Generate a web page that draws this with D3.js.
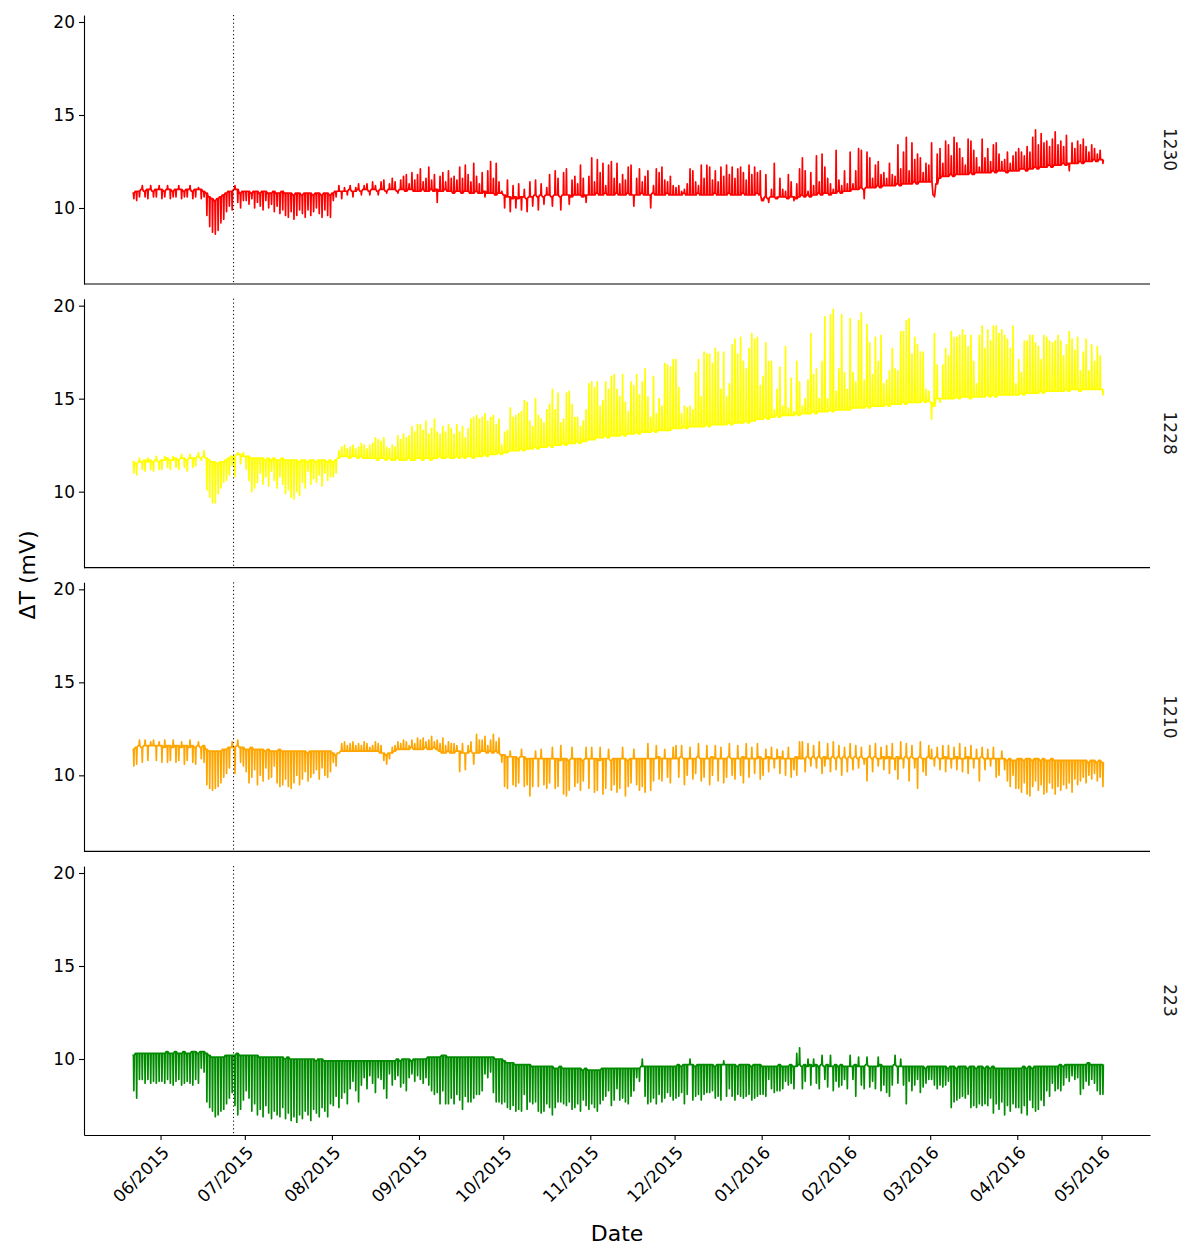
<!DOCTYPE html>
<html><head><meta charset="utf-8">
<script src="https://cdn.jsdelivr.net/npm/d3@7"></script>
<style>body{margin:0;background:#fff}text{font-family:"DejaVu Sans",sans-serif}</style>
</head><body>
<svg id="chart" width="1184" height="1245"></svg>
<script>
// First day of each block of daily values (first block starts 22 May 2015)
const monthStarts = ["2015-05-22","2015-06-01","2015-07-01","2015-08-01","2015-09-01","2015-10-01","2015-11-01","2015-12-01","2016-01-01","2016-02-01","2016-03-01","2016-04-01","2016-05-01"];
const sensors = ["1230","1228","1210","223"];
const colors = ["#FF0000","#FFFF00","#FFA500","#008B00"];
const yTicks = [10,15,20];
const markerDate = "2015-06-27";
const xTitle = "Date", yTitle = "\u0394T (mV)";

// Daily baseline (night) value and daily excursion value, mV, one row per month
const base1230 = [
[10.8,10.9,10.9,11.0,10.9,11.0,11.0,10.9,11.0,11.0],
[11.0,10.9,11.0,11.0,10.9,11.0,11.0,11.0,10.9,11.0,11.0,10.9,11.0,11.0,11.0,10.9,10.8,10.6,10.5,10.4,10.5,10.6,10.7,10.8,10.9,10.9,11.0,11.0,10.8,10.9],
[10.9,10.9,10.8,10.9,10.9,10.8,10.9,10.9,10.8,10.8,10.9,10.8,10.8,10.9,10.8,10.8,10.8,10.7,10.8,10.8,10.7,10.8,10.8,10.8,10.7,10.8,10.8,10.7,10.8,10.8,10.7],
[10.8,10.9,10.9,10.9,10.9,10.9,11.0,10.9,10.9,11.0,10.9,11.0,11.0,10.9,11.0,11.0,10.9,11.0,11.0,10.9,11.0,11.0,11.0,10.9,11.0,11.0,10.9,11.0,11.0,10.9,10.9],
[10.9,11.0,10.9,10.9,11.0,10.9,11.0,10.9,10.9,11.0,10.9,10.9,10.8,10.9,10.9,10.8,10.9,10.9,10.8,10.8,10.9,10.8,10.8,10.9,10.8,10.8,10.8,10.7,10.8,10.8],
[10.7,10.6,10.6,10.5,10.6,10.5,10.6,10.6,10.5,10.6,10.6,10.7,10.6,10.7,10.6,10.7,10.7,10.6,10.7,10.7,10.6,10.7,10.7,10.7,10.6,10.7,10.7,10.7,10.6,10.7,10.7],
[10.7,10.7,10.8,10.7,10.7,10.8,10.7,10.7,10.7,10.8,10.7,10.7,10.7,10.8,10.7,10.7,10.7,10.7,10.8,10.7,10.7,10.7,10.8,10.7,10.7,10.7,10.7,10.8,10.7,10.7],
[10.7,10.7,10.7,10.8,10.7,10.7,10.7,10.7,10.8,10.7,10.7,10.7,10.7,10.7,10.8,10.7,10.7,10.7,10.7,10.8,10.7,10.7,10.7,10.7,10.8,10.7,10.7,10.7,10.7,10.8,10.7],
[10.4,10.6,10.5,10.6,10.6,10.5,10.6,10.6,10.6,10.5,10.6,10.6,10.5,10.6,10.7,10.6,10.7,10.6,10.7,10.7,10.8,10.7,10.8,10.8,10.7,10.8,10.8,10.9,10.8,10.9,10.9],
[10.9,11.0,11.0,11.0,11.1,11.0,11.1,11.1,11.1,11.1,11.2,11.1,11.2,11.2,11.2,11.2,11.2,11.3,11.2,11.3,11.3,11.3,11.3,11.4,11.3,11.4,11.4,11.4,11.4],
[11.4,10.7,11.3,11.6,11.7,11.7,11.7,11.8,11.7,11.8,11.8,11.8,11.8,11.8,11.9,11.8,11.9,11.9,11.9,11.9,11.9,11.9,12.0,11.9,12.0,12.0,12.0,11.9,12.0,12.0,12.0],
[12.0,12.1,12.1,12.0,12.1,12.1,12.2,12.1,12.2,12.2,12.2,12.3,12.2,12.3,12.3,12.3,12.4,12.3,12.4,12.4,12.4,12.4,12.5,12.4,12.5,12.5,12.5,12.6,12.5,12.6],
[12.6]];
const ext1230 = [
[10.5,10.4,10.6,11.2,10.6,10.5,11.2,10.6,10.6,11.2],
[10.5,10.6,11.2,10.5,10.6,10.6,11.2,10.5,10.6,10.6,11.2,10.5,10.6,11.1,10.5,10.6,9.6,9.0,8.7,8.6,8.8,9.2,9.4,9.8,10.1,9.9,11.2,10.3,10.0,10.4],
[10.4,10.2,10.5,10.0,10.3,10.1,9.9,10.4,10.0,10.2,9.8,10.1,9.7,9.9,9.6,9.5,9.8,9.4,9.6,9.9,9.7,9.5,9.9,9.6,9.8,10.0,9.7,9.5,9.9,9.6,9.5],
[10.4,10.6,11.2,10.5,11.1,10.7,11.2,10.6,11.1,11.3,10.7,11.2,11.3,10.7,11.4,11.2,10.7,11.4,11.5,10.8,11.3,11.6,11.4,10.8,11.5,11.7,11.8,11.3,11.9,11.5,11.8],
[12.1,11.4,11.6,12.2,11.5,11.8,10.3,11.7,11.9,11.4,12.0,11.6,11.7,11.5,12.2,11.6,12.3,11.8,11.4,12.4,11.7,11.3,11.9,10.6,12.0,12.5,11.6,12.4,11.4,10.9],
[10.0,11.5,9.8,11.2,10.0,11.3,9.9,11.0,9.8,11.4,10.1,11.5,9.9,11.3,10.2,11.1,11.8,10.1,12.0,11.6,9.9,11.9,12.1,10.2,11.5,11.7,11.3,12.3,11.6,10.3,11.7],
[12.7,11.4,12.6,11.9,12.4,11.2,12.3,12.5,11.6,12.4,11.3,11.8,11.5,12.2,12.3,10.1,11.6,12.1,11.4,11.7,12.0,10.0,11.2,12.1,11.9,12.2,11.5,11.4,11.7,11.2],
[11.1,11.2,10.9,11.0,11.3,12.1,12.0,11.4,11.2,12.3,11.6,12.3,12.2,11.5,12.0,11.4,12.2,11.7,12.3,11.8,12.2,11.6,12.1,12.2,11.9,11.5,12.3,11.8,12.2,11.9,12.0],
[10.5,11.8,10.3,11.0,12.4,10.6,11.6,11.0,10.9,11.8,11.4,10.4,11.3,12.1,12.7,12.0,10.9,11.9,11.2,12.8,11.4,12.9,12.2,11.6,11.3,11.0,13.1,11.5,11.2,12.0,11.3],
[13.0,11.3,12.0,13.2,13.1,10.5,13.0,12.7,11.6,12.3,12.5,11.8,11.9,11.6,12.4,11.8,11.7,13.4,12.1,13.0,13.8,12.0,13.5,12.6,12.9,12.7,11.9,12.4,12.3],
[13.5,10.6,12.9,13.2,12.4,13.6,13.4,12.8,13.8,13.5,13.2,12.7,12.3,13.7,13.6,13.1,12.7,12.2,13.7,12.7,13.2,12.5,13.4,13.5,12.9,12.5,12.6,13.0,12.4,12.8,13.0],
[13.2,13.0,12.8,13.3,13.0,13.8,14.2,13.4,14.0,13.5,13.6,13.3,13.7,14.1,13.4,13.6,13.3,13.9,12.0,13.5,13.2,13.6,13.4,13.7,13.3,13.0,13.4,13.2,12.9,13.1],
[12.4]];

const base1228 = [
[11.6,11.5,11.6,11.6,11.7,11.6,11.7,11.6,11.7,11.6],
[11.7,11.7,11.8,11.7,11.7,11.8,11.7,11.8,11.8,11.7,11.8,11.8,11.8,11.9,11.8,11.9,11.8,11.7,11.6,11.6,11.5,11.6,11.6,11.7,11.8,11.9,11.9,12.0,12.0,11.9],
[11.9,11.9,11.8,11.8,11.8,11.8,11.8,11.7,11.8,11.7,11.8,11.7,11.7,11.8,11.7,11.7,11.7,11.7,11.7,11.6,11.7,11.7,11.6,11.7,11.7,11.6,11.7,11.7,11.7,11.6,11.7],
[11.6,11.7,11.8,11.9,11.9,11.9,11.8,11.9,11.9,11.8,11.9,11.8,11.8,11.8,11.8,11.8,11.7,11.8,11.8,11.7,11.8,11.7,11.7,11.8,11.7,11.7,11.7,11.8,11.7,11.7,11.8],
[11.8,11.7,11.8,11.8,11.7,11.8,11.8,11.9,11.8,11.8,11.9,11.8,11.8,11.9,11.8,11.9,11.8,11.9,11.9,11.8,11.9,11.9,11.9,12.0,11.9,12.0,12.0,12.0,12.1,12.0],
[12.1,12.1,12.2,12.2,12.2,12.2,12.3,12.2,12.3,12.3,12.3,12.4,12.3,12.4,12.4,12.4,12.5,12.4,12.5,12.5,12.5,12.6,12.5,12.6,12.6,12.6,12.7,12.6,12.7,12.7,12.8],
[12.8,12.8,12.9,12.9,12.9,13.0,12.9,13.0,13.0,13.0,13.0,13.1,13.0,13.1,13.1,13.1,13.2,13.1,13.2,13.2,13.2,13.2,13.3,13.2,13.3,13.3,13.3,13.3,13.3,13.4],
[13.4,13.4,13.4,13.5,13.4,13.5,13.5,13.5,13.5,13.5,13.5,13.6,13.5,13.6,13.6,13.6,13.6,13.6,13.6,13.7,13.6,13.7,13.7,13.7,13.7,13.8,13.7,13.8,13.8,13.9,13.9],
[13.9,14.0,13.9,14.0,14.0,14.1,14.0,14.1,14.1,14.1,14.1,14.1,14.2,14.1,14.2,14.2,14.2,14.2,14.3,14.2,14.3,14.3,14.3,14.3,14.4,14.3,14.4,14.4,14.4,14.4,14.4],
[14.4,14.5,14.5,14.5,14.5,14.5,14.6,14.5,14.6,14.6,14.6,14.6,14.6,14.7,14.6,14.7,14.7,14.7,14.7,14.8,14.7,14.8,14.8,14.8,14.8,14.8,14.9,14.8,14.9],
[14.8,14.6,15.0,15.0,15.0,15.0,15.0,15.0,15.0,15.1,15.0,15.1,15.1,15.1,15.0,15.1,15.1,15.1,15.1,15.1,15.2,15.1,15.2,15.1,15.2,15.2,15.2,15.2,15.2,15.2,15.2],
[15.2,15.3,15.2,15.3,15.3,15.3,15.3,15.3,15.4,15.3,15.4,15.4,15.4,15.4,15.4,15.4,15.4,15.5,15.4,15.5,15.5,15.5,15.4,15.5,15.5,15.5,15.5,15.5,15.5,15.5],
[15.5]];
const ext1228 = [
[11.0,10.9,11.8,11.2,11.1,11.8,11.2,11.1,11.9,11.2],
[11.2,11.9,11.3,11.2,11.9,11.3,11.2,12.0,11.3,11.1,12.0,11.3,11.4,12.1,11.7,12.2,10.1,9.7,9.4,9.4,9.9,10.2,10.5,10.6,10.9,11.4,10.8,12.1,11.5,12.1],
[11.2,10.6,10.0,10.2,10.5,11.0,10.4,10.8,10.3,11.1,10.6,10.2,10.8,10.4,9.9,10.1,9.7,9.6,10.0,9.8,10.5,10.2,11.1,10.4,10.7,10.5,10.9,10.3,11.0,10.6,10.8],
[10.8,11.0,12.2,12.4,12.5,12.3,12.4,12.5,12.3,12.4,12.6,12.5,12.3,12.5,12.6,12.9,12.8,12.7,12.9,12.4,12.3,12.5,12.4,13.0,12.8,13.1,12.9,13.0,13.5,13.2,13.6],
[13.6,13.3,13.8,13.1,13.4,13.9,13.2,13.1,13.5,13.2,13.6,13.4,13.1,13.6,13.2,13.5,12.9,13.4,13.9,14.0,14.1,13.9,14.0,14.2,13.8,14.0,14.1,13.6,13.9,12.5],
[13.2,13.3,14.5,14.0,14.1,14.2,14.3,14.9,14.8,13.8,13.5,15.0,14.1,13.9,13.7,14.4,14.7,15.5,14.4,15.3,13.7,13.9,15.3,15.4,14.7,14.0,14.0,13.5,13.8,14.4,15.8],
[15.9,15.6,15.9,14.6,14.9,15.9,15.5,16.2,16.3,15.5,15.1,16.3,14.8,14.3,15.9,15.7,16.3,15.2,15.9,16.6,15.1,14.0,16.2,14.2,15.0,14.6,16.9,16.8,16.7,17.1],
[17.1,15.6,14.2,14.6,14.5,14.6,14.4,16.4,17.1,15.1,17.5,17.4,17.4,16.9,17.7,17.5,15.5,17.5,15.1,15.8,17.9,18.2,17.4,18.3,17.0,16.6,17.7,18.5,18.2,18.3,15.7],
[16.2,18.0,17.0,17.0,14.4,15.5,16.7,14.6,17.8,14.5,16.1,14.3,17.0,15.9,14.6,15.0,16.0,18.5,16.3,16.6,15.0,17.0,19.4,15.0,19.5,19.8,15.4,16.6,19.5,16.4,15.5],
[19.3,16.4,15.9,19.2,19.6,16.0,19.0,18.0,16.3,18.3,17.0,18.4,15.8,16.0,16.5,17.7,16.6,16.5,18.6,18.6,19.2,19.3,17.4,18.3,17.9,17.5,17.5,15.5,15.4],
[13.9,18.5,16.8,14.8,16.8,17.7,17.3,18.6,18.3,18.3,18.4,18.7,18.4,17.8,18.4,17.0,15.8,18.4,18.9,17.7,18.7,18.1,18.9,18.9,18.5,18.7,18.4,18.2,17.7,18.9,15.8],
[17.1,16.4,18.1,18.1,18.4,18.4,18.0,17.8,17.1,18.4,18.3,18.1,18.0,18.1,18.4,18.1,17.3,17.9,18.6,18.2,17.6,18.3,16.5,17.5,18.2,16.5,17.9,17.0,17.8,17.3],
[15.2]];

const base1210 = [
[11.4,11.5,11.6,11.5,11.6,11.6,11.6,11.6,11.6,11.6],
[11.6,11.5,11.6,11.6,11.5,11.6,11.6,11.5,11.6,11.6,11.5,11.6,11.5,11.6,11.5,11.6,11.4,11.3,11.3,11.3,11.3,11.3,11.4,11.4,11.5,11.5,11.5,11.6,11.5,11.5],
[11.4,11.4,11.5,11.4,11.4,11.4,11.4,11.3,11.4,11.3,11.3,11.3,11.4,11.3,11.3,11.3,11.3,11.3,11.3,11.3,11.3,11.3,11.2,11.3,11.3,11.3,11.3,11.3,11.3,11.3,11.3],
[11.2,11.1,11.2,11.3,11.3,11.3,11.3,11.3,11.3,11.3,11.3,11.3,11.3,11.3,11.3,11.3,11.3,11.2,11.2,11.1,11.2,11.2,11.3,11.4,11.4,11.4,11.4,11.4,11.5,11.4,11.4],
[11.4,11.4,11.5,11.4,11.4,11.5,11.4,11.3,11.2,11.2,11.3,11.2,11.2,11.3,11.3,11.2,11.2,11.2,11.3,11.2,11.2,11.2,11.3,11.3,11.2,11.3,11.2,11.3,11.2,11.1],
[11.1,11.0,11.0,11.0,11.0,10.9,11.0,11.0,10.9,10.9,10.9,10.9,10.9,10.9,10.9,10.9,10.9,10.9,10.9,10.9,10.8,10.9,10.9,10.8,10.9,10.9,10.9,10.9,10.8,10.9,10.9],
[10.9,10.9,10.9,10.8,10.9,10.9,10.9,10.8,10.9,10.9,10.9,10.9,10.9,10.8,10.9,10.9,10.9,10.9,10.9,10.9,10.9,10.9,10.9,10.9,11.0,10.9,10.9,10.9,10.9,10.9],
[10.9,10.9,11.0,10.9,10.9,10.9,10.9,10.9,11.0,10.9,10.9,10.9,10.9,11.0,10.9,10.9,10.9,10.9,10.9,11.0,10.9,10.9,10.9,10.9,11.0,10.9,10.9,10.9,10.9,10.9,11.0],
[10.9,10.9,11.0,10.9,10.9,10.9,11.0,10.9,10.9,10.9,10.9,10.9,11.0,10.9,10.9,10.9,11.0,10.9,11.0,10.9,11.0,10.9,11.0,10.9,10.9,11.0,10.9,11.0,10.9,11.0,10.9],
[11.0,10.9,11.0,10.9,11.0,10.9,10.9,11.0,10.9,11.0,10.9,10.9,11.0,10.9,11.0,10.9,10.9,11.0,10.9,10.9,11.0,10.9,11.0,10.9,10.9,11.0,10.9,10.9,11.0],
[10.9,10.9,11.0,10.9,10.9,11.0,10.9,10.9,10.9,11.0,10.9,10.9,10.9,11.0,10.9,10.9,10.9,10.9,11.0,10.9,10.9,10.9,10.9,10.9,10.9,10.9,10.9,10.8,10.9,10.8,10.8],
[10.9,10.9,10.8,10.9,10.9,10.8,10.9,10.9,10.8,10.9,10.8,10.8,10.9,10.8,10.8,10.8,10.8,10.8,10.8,10.8,10.8,10.8,10.8,10.8,10.8,10.7,10.8,10.8,10.7,10.8],
[10.7]];
const ext1210 = [
[10.5,10.6,11.9,10.7,11.9,10.8,11.8,11.9,10.8,11.8],
[10.7,11.9,10.7,10.8,11.9,10.7,10.8,11.8,10.6,10.8,11.9,10.7,10.6,11.8,10.9,10.7,9.5,9.3,9.2,9.3,9.4,9.6,9.9,10.1,10.4,11.8,10.1,11.9,10.7,10.5],
[10.2,9.6,9.9,10.3,9.5,10.0,9.7,10.4,9.8,9.9,10.5,9.6,9.4,9.5,9.8,9.4,9.3,9.6,10.0,9.5,9.8,10.2,9.7,9.9,10.1,10.3,9.8,10.4,10.0,9.9,10.2],
[10.7,10.5,11.2,11.7,11.8,11.6,11.7,11.8,11.6,11.7,11.6,11.8,11.7,11.5,11.6,11.8,11.7,11.6,10.8,10.6,10.9,11.5,11.6,11.8,11.7,11.9,11.8,11.6,11.9,11.7,12.0],
[11.9,12.0,11.8,11.9,12.1,11.8,11.9,11.7,12.0,11.6,11.8,11.7,11.7,11.6,10.2,11.7,10.3,11.6,11.8,10.6,12.2,11.9,11.9,12.1,11.6,11.9,12.2,11.8,12.0,10.7],
[9.4,9.3,11.3,9.5,9.4,9.6,11.4,9.4,9.5,8.9,9.4,11.3,9.4,11.4,9.5,9.3,9.6,11.5,9.3,9.4,11.6,9.0,8.9,9.2,11.5,9.4,9.6,9.2,9.7,11.5,9.3],
[11.5,9.1,9.2,11.5,9.0,9.3,11.4,9.2,9.5,9.1,9.3,11.5,8.9,9.4,9.6,11.4,9.5,9.2,9.4,9.1,11.7,9.2,9.7,11.6,9.8,9.7,11.4,9.9,9.6,11.5],
[11.6,9.9,11.6,9.5,10.0,11.5,9.8,10.1,11.7,9.7,9.9,11.6,9.5,10.0,11.6,9.7,11.5,9.6,9.9,11.7,10.0,9.8,11.6,10.0,9.6,11.7,9.9,11.5,10.1,11.7,9.8],
[10.0,11.4,10.2,11.5,10.4,11.4,10.1,11.3,10.0,11.5,9.9,10.3,10.0,11.8,11.8,10.2,11.7,10.5,11.6,10.4,11.8,10.1,10.5,11.7,10.2,11.8,10.3,11.6,10.0,11.5,10.2],
[11.7,10.3,11.6,10.4,11.5,10.6,9.7,11.6,10.2,11.7,10.5,11.5,10.3,11.6,10.1,11.7,10.3,9.8,11.8,10.4,11.7,9.7,11.6,10.4,9.3,11.8,10.2,10.0,11.6],
[11.4,10.5,11.5,10.3,11.6,10.2,11.6,10.4,11.5,10.3,11.7,10.2,11.5,10.1,11.6,10.4,11.4,9.7,11.5,10.3,11.4,10.5,11.5,9.9,10.0,11.3,10.3,9.7,9.4,10.0,9.3],
[9.3,9.1,9.6,9.0,8.9,9.4,9.7,9.2,9.5,9.0,9.1,9.6,9.3,9.0,9.4,9.2,9.5,9.3,9.6,9.1,9.8,9.5,9.7,9.9,9.6,10.0,9.8,10.1,9.7,9.9],
[9.4]];

const base223 = [
[10.2,10.3,10.3,10.3,10.3,10.3,10.3,10.3,10.3,10.3],
[10.3,10.3,10.4,10.3,10.3,10.4,10.3,10.3,10.4,10.3,10.3,10.4,10.4,10.3,10.4,10.4,10.3,10.2,10.1,10.1,10.1,10.1,10.1,10.2,10.2,10.2,10.2,10.3,10.2,10.2],
[10.2,10.2,10.2,10.2,10.2,10.1,10.1,10.1,10.1,10.1,10.1,10.1,10.1,10.1,10.0,10.1,10.0,10.0,10.0,10.0,10.0,10.0,10.0,10.0,10.0,9.9,10.0,10.0,9.9,9.9,9.9],
[9.9,9.9,9.9,9.9,9.9,9.9,9.9,9.9,9.9,9.9,9.9,9.9,9.9,9.9,9.9,9.9,9.9,9.9,9.9,9.9,9.9,9.9,9.9,10.0,9.9,10.0,10.0,10.0,9.9,10.0,10.0],
[10.0,10.0,10.0,10.1,10.1,10.1,10.1,10.1,10.2,10.2,10.1,10.1,10.1,10.1,10.1,10.1,10.1,10.1,10.1,10.1,10.1,10.1,10.1,10.1,10.1,10.1,10.1,10.0,10.0,10.0],
[9.9,9.8,9.8,9.8,9.7,9.7,9.7,9.7,9.7,9.7,9.6,9.6,9.6,9.6,9.6,9.6,9.6,9.6,9.5,9.5,9.6,9.5,9.5,9.5,9.5,9.5,9.5,9.5,9.4,9.5,9.4],
[9.4,9.4,9.4,9.4,9.5,9.5,9.5,9.5,9.5,9.5,9.5,9.5,9.5,9.5,9.5,9.5,9.5,9.5,9.6,9.6,9.6,9.6,9.6,9.6,9.6,9.6,9.6,9.6,9.6,9.6],
[9.6,9.7,9.6,9.7,9.7,9.7,9.7,9.6,9.7,9.7,9.7,9.7,9.7,9.7,9.6,9.7,9.7,9.7,9.7,9.7,9.7,9.7,9.6,9.7,9.7,9.7,9.7,9.6,9.7,9.7,9.7],
[9.6,9.6,9.6,9.6,9.6,9.6,9.7,9.6,9.6,9.6,9.7,9.6,9.6,9.7,9.6,9.7,9.6,9.7,9.6,9.7,9.6,9.7,9.6,9.7,9.6,9.6,9.7,9.6,9.7,9.6,9.6],
[9.6,9.6,9.7,9.6,9.6,9.6,9.7,9.6,9.6,9.6,9.6,9.7,9.6,9.6,9.6,9.6,9.7,9.6,9.6,9.6,9.6,9.6,9.6,9.6,9.6,9.6,9.6,9.5,9.6],
[9.6,9.6,9.6,9.6,9.6,9.6,9.5,9.6,9.6,9.5,9.6,9.6,9.6,9.5,9.6,9.6,9.5,9.6,9.6,9.5,9.6,9.5,9.6,9.5,9.5,9.5,9.5,9.5,9.5,9.5,9.5],
[9.5,9.5,9.6,9.5,9.6,9.5,9.6,9.6,9.6,9.6,9.6,9.6,9.6,9.6,9.6,9.7,9.6,9.7,9.7,9.7,9.7,9.7,9.7,9.7,9.7,9.8,9.7,9.7,9.7,9.7],
[9.7]];
const ext223 = [
[8.3,7.9,8.9,8.9,8.7,8.9,8.7,8.8,8.7,8.8],
[8.8,8.7,8.9,8.7,8.6,8.8,8.9,8.6,8.7,8.8,8.7,8.6,8.9,8.7,9.5,9.3,7.7,7.4,7.2,6.9,7.0,7.2,7.3,7.6,7.9,8.2,7.5,7.0,7.3,7.8],
[8.3,7.9,7.2,7.6,7.0,7.3,6.9,7.5,7.1,6.8,7.2,7.0,6.9,7.4,6.8,7.1,6.7,6.9,6.6,7.0,6.8,7.2,7.0,6.7,7.3,7.1,6.9,7.4,7.2,6.9,7.6],
[7.5,8.0,7.4,7.9,8.2,7.6,8.4,8.8,8.3,7.7,8.6,9.0,8.4,9.1,8.7,8.2,9.0,8.9,8.4,7.9,9.2,8.6,8.9,9.1,8.5,8.7,8.3,9.0,9.2,8.8,9.1],
[8.9,8.7,9.0,8.6,8.3,8.1,8.2,7.6,8.3,7.6,7.6,7.9,7.6,8.1,7.8,7.3,8.0,7.7,7.7,7.9,8.1,8.1,8.3,9.2,9.0,9.3,8.2,7.7,7.7,7.6],
[7.7,7.4,7.3,7.5,7.2,7.3,7.2,8.1,7.3,7.7,7.6,7.7,7.2,7.1,7.2,7.6,7.4,7.0,7.4,7.7,7.7,7.6,7.5,7.7,7.3,7.4,7.6,7.2,7.8,7.5,7.3],
[7.6,7.4,7.2,7.6,7.8,8.0,8.3,7.5,7.8,8.4,7.8,7.9,7.7,7.6,8.0,8.3,9.0,8.8,10.0,8.0,7.6,7.7,7.9,7.6,8.1,7.7,7.9,8.2,8.0,7.8],
[7.9,8.0,8.2,7.6,8.1,10.0,7.8,8.0,8.1,7.8,8.1,8.2,8.2,8.3,7.9,8.0,7.8,9.9,8.0,8.4,8.0,7.8,8.1,8.0,7.9,8.0,8.1,7.8,7.9,8.0,8.1],
[8.1,8.0,8.9,8.4,8.2,8.3,8.3,8.4,8.8,8.6,8.7,8.4,10.3,10.6,8.4,8.8,10.0,8.6,10.0,8.7,8.4,10.2,8.9,8.5,10.2,8.3,8.8,8.5,8.6,8.9,8.4],
[10.2,8.9,8.0,10.1,8.6,8.4,10.1,8.5,8.8,8.4,10.1,8.3,8.6,8.2,8.0,8.6,10.2,8.7,10.0,8.6,7.6,8.8,8.3,8.6,8.9,8.2,8.5,8.7,8.9],
[8.9,8.6,8.4,8.6,8.5,8.6,8.8,7.4,7.7,7.8,7.9,8.0,7.9,8.1,7.4,7.5,7.4,7.6,7.5,7.6,7.5,7.9,7.1,7.6,7.3,7.7,7.0,7.5,7.2,7.6,7.4],
[7.4,7.1,7.5,7.0,7.8,7.4,7.2,7.3,7.8,7.5,8.3,8.0,8.7,8.3,8.4,8.3,8.6,9.0,8.8,9.1,8.9,9.0,8.1,8.4,8.8,8.6,8.9,8.7,8.3,8.1],
[8.1]];

const baseSeries = [base1230, base1228, base1210, base223];
const extSeries = [ext1230, ext1228, ext1210, ext223];

// ---------- drawing ----------
const svg = d3.select("#chart");
const L = 84, R = 1150, top0 = 15, panelH = 269, stride = 283.67;
const DAY = 864e5;
const parse = d3.utcParse("%Y-%m-%d");
const first = parse(monthStarts[0]), last = parse(monthStarts[monthStarts.length - 1]);
const pad = (last - first) * 0.05;
const x = d3.scaleUtc().domain([new Date(+first - pad), new Date(+last + pad)]).range([L, R]);
const yDomain = [5.914, 20.376];
const line = d3.line().x(d => x(d[0])).y(d => d[1]);

sensors.forEach((name, p) => {
  const t = top0 + p * stride;
  const y = d3.scaleLinear().domain(yDomain).range([t + panelH, t]);
  const g = svg.append("g");
  const pts = [];
  baseSeries[p].forEach((mon, m) => {
    const st = +parse(monthStarts[m]);
    mon.forEach((b, j) => {
      const e = extSeries[p][m][j];
      const d = st + j * DAY;
      pts.push([d, y(b)], [d + 0.36 * DAY, y(b)], [d + 0.5 * DAY, y(e)], [d + 0.64 * DAY, y(b)]);
    });
  });
  g.append("path").attr("d", line(pts)).attr("fill", "none")
    .attr("stroke", colors[p]).attr("stroke-width", 1.7).attr("stroke-linejoin", "round");

  // marker date
  const mx = x(parse(markerDate));
  g.append("line").attr("x1", mx).attr("x2", mx).attr("y1", t).attr("y2", t + panelH)
    .attr("stroke", "#000").attr("stroke-width", 1).attr("stroke-dasharray", "1.2,2.6");

  // y axis
  const ya = g.append("g").attr("transform", `translate(${L},0)`)
    .call(d3.axisLeft(y).tickValues(yTicks).tickSize(5).tickSizeOuter(0).tickPadding(4));
  ya.select(".domain").attr("stroke", "#000").attr("stroke-width", 1.1);
  ya.selectAll(".tick line").attr("stroke", "#000").attr("stroke-width", 1.1);
  ya.selectAll(".tick text").attr("fill", "#000").style("font-size", "17px").style("font-family", "DejaVu Sans");

  // bottom axis line / ticks
  if (p === sensors.length - 1) {
    const xa = g.append("g").attr("transform", `translate(0,${t + panelH})`)
      .call(d3.axisBottom(x).ticks(d3.utcMonth.every(1)).tickSize(5).tickSizeOuter(0).tickFormat(""));
    xa.select(".domain").attr("stroke", "#000").attr("stroke-width", 1.1);
    xa.selectAll(".tick line").attr("stroke", "#000").attr("stroke-width", 1.1);
    const months = x.ticks(d3.utcMonth.every(1));
    g.selectAll(".xlab").data(months).enter().append("text")
      .attr("transform", d => `translate(${x(d) + 1},${t + panelH + 10}) rotate(-45)`)
      .attr("text-anchor", "end").attr("dy", "0.72em")
      .style("font-size", "17px").attr("fill", "#000")
      .text(d3.utcFormat("%m/%Y"));
  } else {
    g.append("line").attr("x1", L).attr("x2", R).attr("y1", t + panelH).attr("y2", t + panelH)
      .attr("stroke", "#000").attr("stroke-width", 1.1);
  }

  // strip label
  g.append("text").attr("transform", `translate(1170,${t + panelH / 2}) rotate(90)`)
    .attr("text-anchor", "middle").attr("dy", "0.35em").style("font-size", "17px")
    .attr("fill", "#1a1a1a").text(name);
});

svg.append("text").attr("x", (L + R) / 2).attr("y", 1241).attr("text-anchor", "middle")
  .style("font-size", "22px").attr("fill", "#000").text(xTitle);
svg.append("text").attr("transform", `translate(35,${(top0 + top0 + 3 * stride + panelH) / 2}) rotate(-90)`)
  .attr("text-anchor", "middle").style("font-size", "22px").attr("fill", "#000").text(yTitle);
</script>
</body></html>
